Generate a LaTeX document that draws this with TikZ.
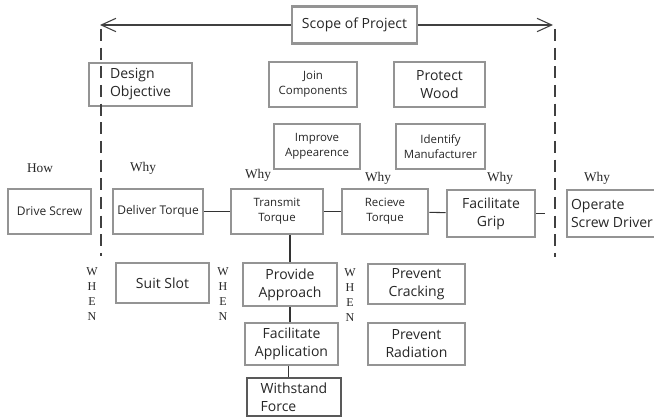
\documentclass[tikz,border=0pt]{standalone}
\usepackage{fontspec}
\setmainfont{Liberation Serif}
\newfontfamily\boxfont{Open Sans}
\usetikzlibrary{arrows.meta,positioning}
\tikzset{
    %Define standard arrow tip
    >={Straight Barb[length=11pt,width=10pt]},
    %Define style for boxes
    box/.style={
           rectangle,
           draw=black!42, line width=2.1pt,
           minimum height=33.75pt,
           inner sep=1pt,
           align=center,
           text=black!85,
           font=\boxfont\fontsize{10.5}{13.5}\selectfont},
    smallbox/.style={
           box,
           font=\boxfont\fontsize{8.6}{11}\selectfont},
    midbox/.style={
           box,
           font=\boxfont\fontsize{9}{11}\selectfont},
    % Define label styles
    ask/.style={
           text=black!85,
           font=\fontsize{10}{11}\selectfont},
    when/.style={
           ask,
           align=center,
           font=\fontsize{9}{11.25}\selectfont},
    % Define line styles
    scopeline/.style={black!75, line width=0.8pt},
    limit/.style={black!75, line width=0.8pt, dash pattern=on 9pt off 5pt},
    link/.style={black!80, line width=0.8pt}
}
\begin{document}
\begin{tikzpicture}[x=0.75pt,y=-0.75pt]
\useasboundingbox (0,0) rectangle (654,417);
 %nodes
\node[box, minimum width=93.75pt, minimum height=27.75pt] (scope) at (354.5,25) {Scope of Project};
\node[box, minimum width=77.25pt, minimum height=32.25pt, align=left] (design) at (140.5,84.5) {Design\\Objective};
\node[smallbox, minimum width=66pt] (join) at (313,84.5) {Join\\Components};
\node[box, minimum width=68.25pt] (protect) at (439.5,84.5) {Protect\\Wood};
\node[smallbox, minimum width=64.5pt] (improve) at (317,146.5) {Improve\\Appearence};
\node[smallbox, minimum width=66.75pt] (identify) at (440.5,146.5) {Identify\\Manufacturer};
 %how-why row
\node[midbox, minimum width=62.25pt] (drive) at (49.5,211.5) {Drive Screw};
\node[midbox, minimum width=67.5pt] (deliver) at (158,211.5) {Deliver Torque};
\node[smallbox, minimum width=69pt] (transmit) at (277,211.5) {Transmit\\Torque};
\node[smallbox, minimum width=64.5pt] (recieve) at (385,211.5) {Recieve\\Torque};
\node[box, minimum width=66pt, minimum height=35.25pt] (grip) at (491,213.5) {Facilitate\\Grip};
\node[box, minimum width=67.5pt, minimum height=35.25pt, align=left] (operate) at (612,213.5) {Operate\\Screw Driver};
 %when column
\node[box, minimum width=69.75pt, minimum height=30pt] (suit) at (162.5,283) {Suit Slot};
\node[box, minimum width=70.5pt, minimum height=32.25pt] (provide) at (290,284.5) {Provide\\Approach};
\node[box, minimum width=72.75pt, minimum height=30pt] (cracking) at (416.5,284) {Prevent\\Cracking};
\node[box, minimum width=69.75pt, minimum height=31.5pt] (application) at (291.5,344) {Facilitate\\Application};
\node[box, minimum width=72.75pt, minimum height=31.5pt] (radiation) at (416.5,344) {Prevent\\Radiation};
\node[box, draw=black!65, minimum width=70.5pt, minimum height=28.5pt, align=left] (withstand) at (294,397) {Withstand\\Force};
 %labels
\node[ask] (how) at (40,168) {How};
\node[ask] (why1) at (143,168) {Why};
\node[ask] (why2) at (258,175) {Why};
\node[ask] (why3) at (378,178) {Why};
\node[ask] (why4) at (500,178) {Why};
\node[ask] (why5) at (597,178) {Why};
\node[when] (when1) at (92,294) {W\\H\\E\\N};
\node[when] (when2) at (223,294) {W\\H\\E\\N};
\node[when] (when3) at (350,295) {W\\H\\E\\N};
 %scope limits
\coordinate (leftend) at (100,25);
\coordinate (rightend) at (553,25);
\coordinate (leftfoot) at (101,256);
\coordinate (rightfoot) at (555,257);
\coordinate (stub) at (545,213.5);
\draw[scopeline,->] (scope.west) -- (leftend);
\draw[scopeline,->] (scope.east) -- (rightend);
\draw[limit] (leftend) ++(1,4) -- (leftfoot);
\draw[limit] (rightend) ++(2,4) -- (rightfoot);
 %links
\path[link]
    (deliver) edge (transmit)
    (transmit) edge (recieve)
    (recieve) edge (grip)
    (grip.east) edge (stub);
\draw[link] (provide.north) -- (provide.north |- transmit.south);
\draw[link] (provide.south) -- (provide.south |- application.north);
\draw[link] (withstand.north -| application.south) ++(-3,0) -- ([xshift=-3*0.75pt]application.south);
\end{tikzpicture}
\end{document}
